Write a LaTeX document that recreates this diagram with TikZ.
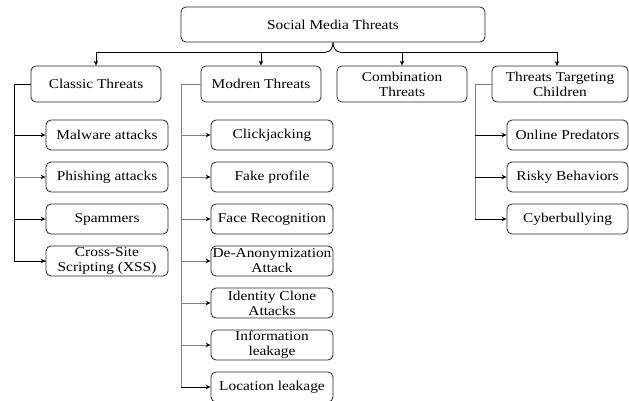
\documentclass[tikz,border=0pt]{standalone}
\usepackage{fontspec}
\setmainfont{Liberation Serif}[FakeStretch=1.14]
\usetikzlibrary{arrows.meta}
\tikzset{
  box/.style={draw=black!85, line width=0.8pt, rounded corners=5pt, align=center, inner sep=1pt,
    font=\fontsize{13.5}{15}\selectfont},
  topbox/.style={box, minimum width=130pt, minimum height=36pt},
  leaf/.style={box, minimum width=122pt, minimum height=30pt},
  conn/.style={line width=0.8pt, draw=black},
  gconn/.style={line width=0.8pt, draw=black!50},
  arr/.style={-{Stealth[length=5pt,width=4.5pt,color=black]}},
}
\begin{document}
\begin{tikzpicture}[x=1pt,y=-1pt]
\useasboundingbox (0,0) rectangle (629,401);
% root
\node[box, minimum width=304pt, minimum height=35pt] (root) at (333,24.5) {Social Media Threats};
% second row
\node[topbox] (classic) at (96,84) {Classic Threats};
\node[topbox, minimum width=120pt] (modren) at (261,84) {Modren Threats};
\node[topbox] (comb) at (402,84) {Combination\\Threats};
\node[topbox, minimum width=136pt] (child) at (560,84) {Threats Targeting\\Children};
% classic leaves
\node[leaf] (c1) at (107,135) {Malware attacks};
\node[leaf] (c2) at (107,177) {Phishing attacks};
\node[leaf] (c3) at (107,219) {Spammers};
\node[leaf] (c4) at (107,261) {Cross-Site\\Scripting (XSS)};
% modern leaves
\node[leaf] (m1) at (272,135) {Clickjacking};
\node[leaf] (m2) at (272,177) {Fake profile};
\node[leaf] (m3) at (272,219) {Face Recognition};
\node[leaf] (m4) at (272,261) {De-Anonymization\\Attack};
\node[leaf] (m5) at (272,303) {Identity Clone\\Attacks};
\node[leaf] (m6) at (272,345) {Information\\leakage};
\node[leaf] (m7) at (272,387) {Location leakage};
% children leaves
\node[leaf, minimum width=121pt] (k1) at (567.5,135) {Online Predators};
\node[leaf, minimum width=121pt] (k2) at (567.5,177) {Risky Behaviors};
\node[leaf, minimum width=121pt] (k3) at (567.5,219) {Cyberbullying};
% root connector (brace)
\coordinate (bl) at (326,52);
\coordinate (br) at (340,52);
\coordinate (chtop) at (557,66);
\draw[conn] (root.south) to[out=-90,in=0] (bl);
\draw[conn] (root.south) to[out=-90,in=180] (br);
\draw[conn,arr] (bl) -| (classic.north);
\draw[conn,arr] (bl) -| (modren.north);
\draw[conn,arr] (br) -| (comb.north);
\draw[conn,arr] (br) -| (chtop);
% classic trunk
\coordinate (ct) at (14,84);
\draw[conn] (classic.west) -- (ct) |- (c4.west);
\draw[conn,arr] (ct |- c4.west) -- (c4.west);
\draw[conn,arr] (ct |- c1.west) -- (c1.west);
\draw[gconn,arr] (ct |- c2.west) -- (c2.west);
\draw[conn,arr] (ct |- c3.west) -- (c3.west);
% modern trunk
\coordinate (mt) at (181,84);
\draw[gconn] (modren.west) -- (mt) -- (mt |- m7.west);
\foreach \n in {m1,m2,m3,m4,m5,m6}{
  \draw[gconn,arr] (mt |- \n.west) -- (\n.west);
}
\draw[conn,arr] (mt |- m7.west) -- (m7.west);
% children trunk
\coordinate (kt) at (475,84);
\draw[gconn] (child.west) -- (kt) -- (kt |- k3.west);
\foreach \n in {k1,k2,k3}{
  \draw[conn,arr] (kt |- \n.west) -- (\n.west);
}
\end{tikzpicture}
\end{document}
